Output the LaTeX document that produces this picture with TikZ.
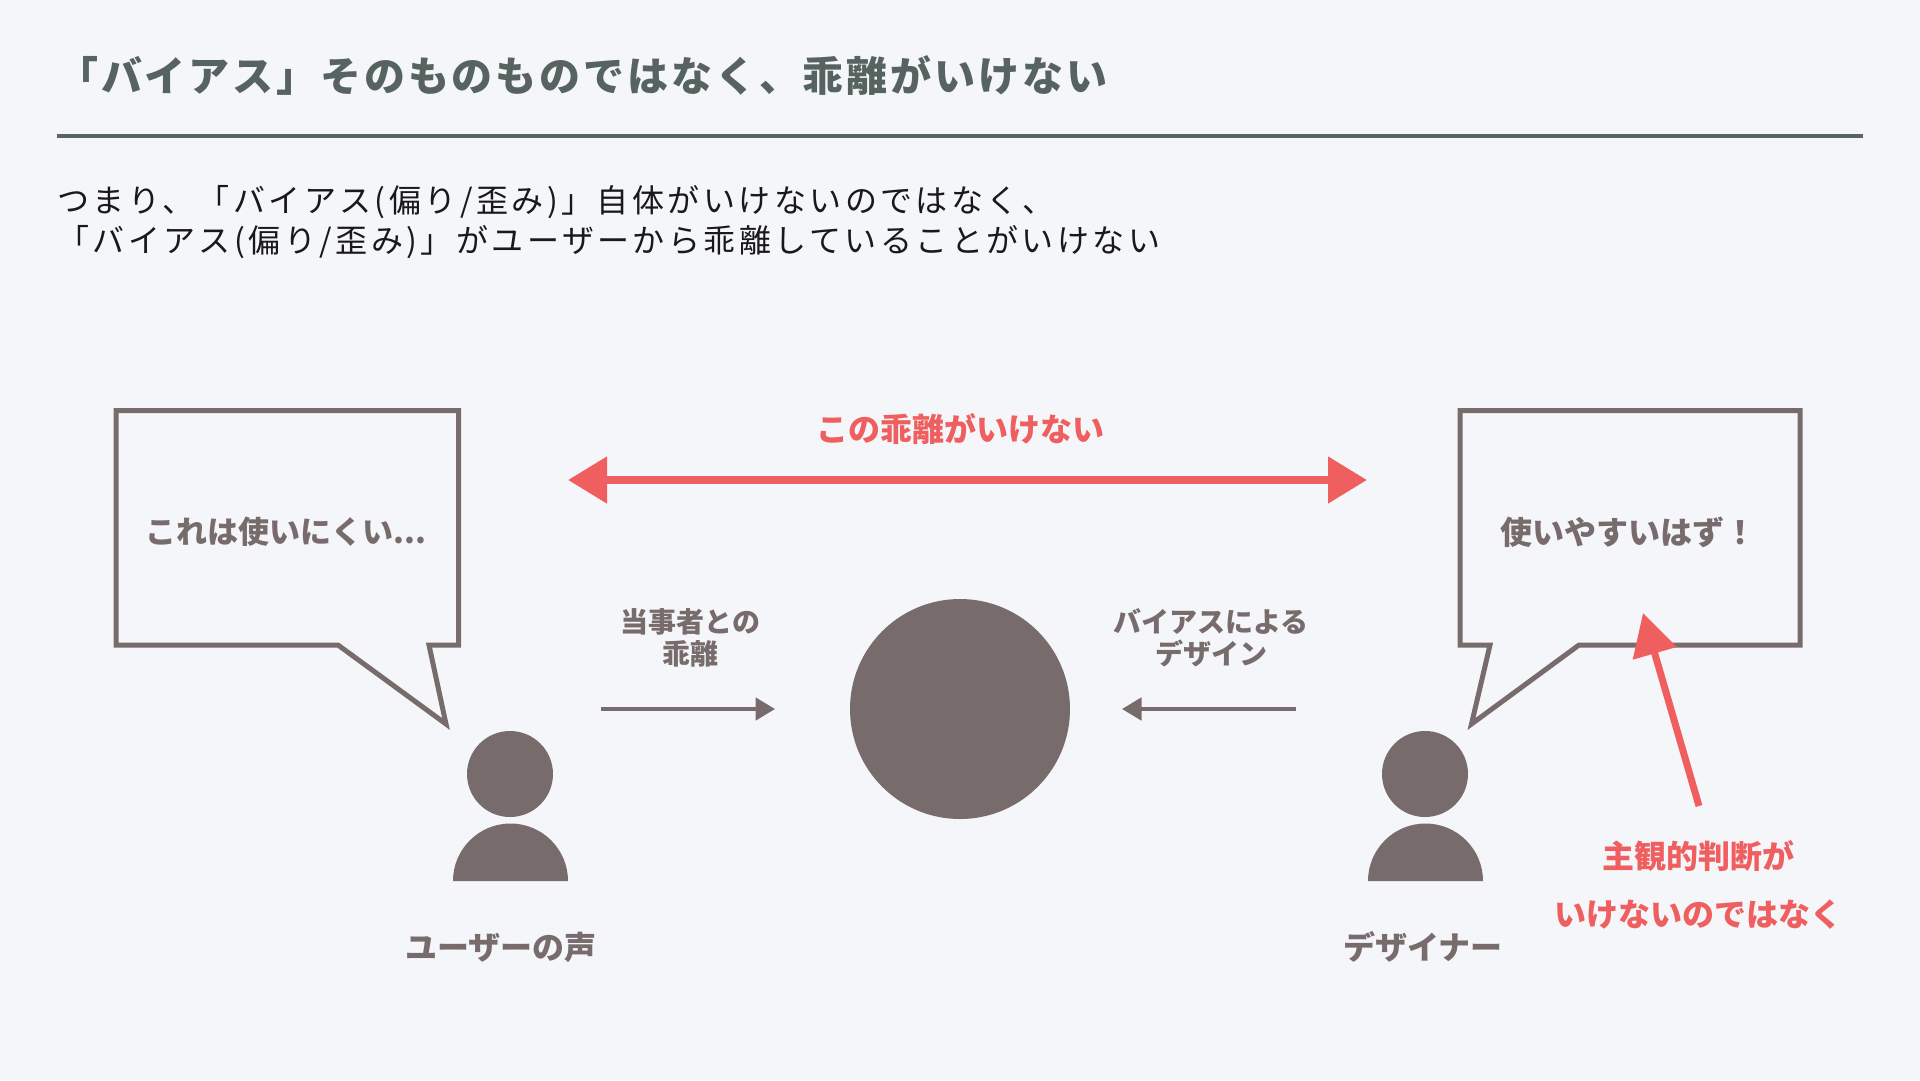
\documentclass[tikz,border=0pt]{standalone}
\usepackage{fontspec}
\setmainfont{Noto Sans CJK JP}
\newfontfamily\headfont[LetterSpace=7]{Noto Sans CJK JP}
\newfontfamily\bodyfont[LetterSpace=10.8]{Noto Sans CJK JP}
\usetikzlibrary{arrows.meta, positioning}

\definecolor{pagebg}{HTML}{F4F6FA}
\definecolor{headgray}{HTML}{56635F}
\definecolor{softgray}{HTML}{786B6B}
\definecolor{alertred}{HTML}{F05F5F}

\tikzset{
	person/.style={circle, fill=softgray, inner sep=0pt, minimum size=86pt},
	bubble/.style={draw=softgray, line width=5pt, miter limit=10},
	graylabel/.style={text=softgray, font=\bfseries\fontsize{31}{31}\selectfont, inner sep=0pt},
	smalllabel/.style={text=softgray, font=\bfseries\fontsize{28}{32}\selectfont, align=center, inner sep=0pt},
	redlabel/.style={text=alertred, font=\bfseries\fontsize{32}{32}\selectfont, inner sep=0pt},
	thinarrow/.style={-{Triangle[length=19.5pt, width=22.5pt]}, draw=softgray, line width=3.5pt},
	redarrow/.style={{Triangle[length=39pt, width=45pt]}-{Triangle[length=39pt, width=45pt]}, draw=alertred, line width=8pt},
	uparrow/.style={-{Triangle[length=42pt, width=44pt]}, draw=alertred, line width=7pt}
}

\begin{document}
\begin{tikzpicture}[x=1pt, y=-1pt]

\fill[pagebg] (0,0) rectangle (1920,1080);
\useasboundingbox (0,0) rectangle (1920,1080);

% heading
\node (title) [anchor=west, inner sep=0pt, text=headgray, font=\headfont\bfseries\fontsize{41}{41}\selectfont] at (57,76) {「バイアス」そのものものではなく、乖離がいけない};
\coordinate (ruleL) at (57,136);
\coordinate (ruleR) at (1863,136);
\draw[headgray, line width=4pt] (ruleL) -- (ruleR);
\node (intro) [anchor=north west, inner sep=0pt, align=left, font=\bodyfont\fontsize{32}{40}\selectfont, text=black!90] at (57,185) {つまり、「バイアス(偏り/歪み)」自体がいけないのではなく、\\「バイアス(偏り/歪み)」がユーザーから乖離していることがいけない};

% speech bubbles
\draw[bubble] (116,410.5) -- (458.5,410.5) -- (458.5,645) -- (429,645) -- (446,724) -- (338,645) -- (116,645) -- cycle;
\draw[bubble] (1460,410.5) -- (1800,410.5) -- (1800,645) -- (1579,645) -- (1471.5,724) -- (1490,645) -- (1460,645) -- cycle;
\node (userSays) [graylabel] at (286,532) {これは使いにくい...};
\node (designerSays) [graylabel, font=\bfseries\fontsize{32}{32}\selectfont] at (1628,532) {使いやすいはず！};

% people
\node (userHead) [person] at (510,774) {};
\fill[softgray] (453,881) arc[start angle=180, end angle=0, radius=57.5pt];
\node (designerHead) [person] at (1425,774) {};
\fill[softgray] (1368,881) arc[start angle=180, end angle=0, radius=57.5pt];
\node (userName) [graylabel, font=\bfseries\fontsize{32}{32}\selectfont] at (501,947) {ユーザーの声};
\node (designerName) [graylabel, font=\bfseries\fontsize{32}{32}\selectfont] at (1423,947) {デザイナー};

% centre
\node (centre) [circle, fill=softgray, inner sep=0pt, minimum size=220pt] at (960,709) {};
\coordinate (leftStart) at (601,709);
\coordinate (leftEnd) at (775,709);
\coordinate (rightStart) at (1296,709);
\coordinate (rightEnd) at (1122,709);
\draw[thinarrow] (leftStart) -- (leftEnd);
\draw[thinarrow] (rightStart) -- (rightEnd);
\node (leftText) [smalllabel] at (690.5,638) {当事者との\\乖離};
\node (rightText) [smalllabel] at (1211,638) {バイアスによる\\デザイン};

% gap
\coordinate (gapL) at (568,480);
\coordinate (gapR) at (1367,480);
\draw[redarrow] (gapL) -- (gapR);
\node (gapText) [redlabel] at (960,429) {この乖離がいけない};

% note
\coordinate (noteStart) at (1699,806);
\coordinate (noteEnd) at (1643,613);
\draw[uparrow] (noteStart) -- (noteEnd);
\node (noteOne) [redlabel] at (1698.5,856) {主観的判断が};
\node (noteTwo) [redlabel] at (1698,915) {いけないのではなく};

\end{tikzpicture}
\end{document}
